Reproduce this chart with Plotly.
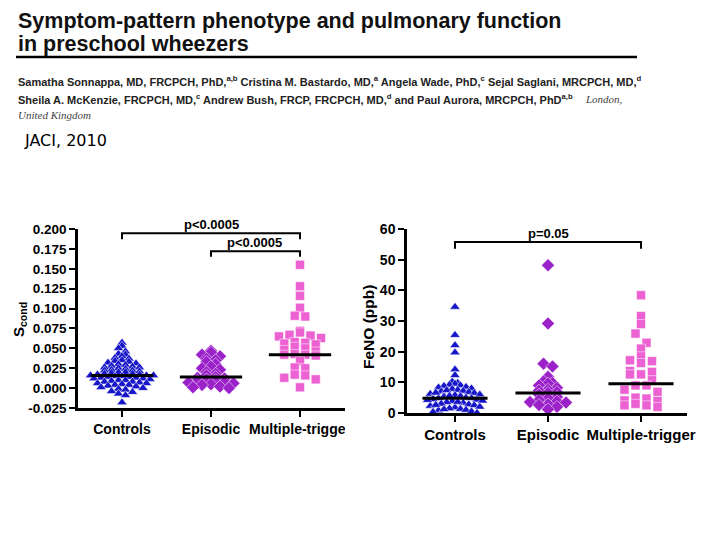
import numpy as np
import plotly.graph_objects as go

# ---------------- data ----------------
categories = ["Controls", "Episodic", "Multiple-trigger"]

scond_controls = [0.057, 0.053, 0.050, 0.046, 0.043, 0.042, 0.040, 0.038, 0.037, 0.035,
                  0.034, 0.033, 0.032, 0.031, 0.030, 0.029, 0.028, 0.027, 0.026, 0.026,
                  0.025, 0.024, 0.023, 0.022, 0.022, 0.021, 0.020, 0.020, 0.019, 0.018,
                  0.018, 0.017, 0.017, 0.016, 0.016, 0.016, 0.015, 0.015, 0.014, 0.014,
                  0.013, 0.013, 0.012, 0.012, 0.011, 0.010, 0.010, 0.009, 0.008, 0.008,
                  0.007, 0.006, 0.006, 0.005, 0.004, 0.004, 0.003, 0.002, 0.001, 0.000,
                  -0.001, -0.002, -0.004, -0.005, -0.007, -0.009, -0.018]
scond_episodic = [0.047, 0.045, 0.042, 0.040, 0.037, 0.035, 0.033, 0.030, 0.027, 0.025,
                  0.023, 0.020, 0.018, 0.016, 0.014, 0.013, 0.012, 0.011, 0.010, 0.009,
                  0.008, 0.007, 0.006, 0.005, 0.004, 0.002, 0.001, 0.000]
scond_multiple = [0.155, 0.128, 0.116, 0.101, 0.091, 0.090, 0.072, 0.070, 0.067, 0.066,
                  0.065, 0.063, 0.058, 0.057, 0.056, 0.055, 0.052, 0.050, 0.048, 0.046,
                  0.043, 0.042, 0.042, 0.041, 0.034, 0.026, 0.025, 0.017, 0.016, 0.013,
                  0.011, 0.001]
scond_medians = [0.016, 0.014, 0.042]

feno_controls = [34.6, 25.4, 22.1, 19.7, 14.2, 12.3, 10.2, 9.8, 9.5, 9.2, 9.0, 8.8, 8.5,
                 8.3, 8.0, 7.8, 7.5, 7.2, 7.0, 6.8, 6.5, 6.2, 6.0, 5.8, 5.5, 5.3, 5.0,
                 4.8, 4.8, 4.5, 4.3, 4.0, 3.8, 3.5, 3.3, 3.0, 2.8, 2.5, 2.3, 2.0, 1.8,
                 1.5, 1.3, 1.0, 0.8, 0.5, 0.3, 0.0, 6.6, 4.2, 2.6, 1.2, 3.6, 7.4, 5.6]
feno_episodic = [48.2, 29.2, 16.1, 15.2, 11.8, 10.3, 9.8, 9.6, 9.0, 8.2, 7.6, 7.3, 6.8,
                 6.5, 6.0, 5.2, 4.8, 4.2, 3.8, 3.6, 3.4, 2.8, 2.6, 2.0, 1.2]
feno_multiple = [38.4, 31.6, 29.0, 25.9, 22.9, 21.0, 18.5, 17.2, 16.9, 16.3, 13.7, 13.4,
                 12.6, 12.6, 10.7, 9.0, 9.0, 7.6, 6.9, 5.0, 4.7, 4.1, 3.9, 3.0, 2.5, 2.5, 2.0]
feno_medians = [4.8, 6.5, 9.5]

scond_ticks = [-0.025, 0.0, 0.025, 0.050, 0.075, 0.100, 0.125, 0.150, 0.175, 0.200]
feno_ticks = [0, 10, 20, 30, 40, 50, 60]

# significance comparisons: (from, to, label)
scond_sig = [(0, 2, "p<0.0005"), (1, 2, "p<0.0005")]
feno_sig = [(0, 2, "p=0.05")]

# ---------------- styling ----------------
W, H = 720, 540
colors = ["#1616c8", "#9b22c9", "#ec62d3"]
symbols = ["triangle-up", "diamond", "square"]
msizes = [9, 10, 9]
FONT = "Liberation Sans, Arial, sans-serif"


def px(x):
    return x / W


def py(y):
    return 1 - y / H


def binned_swarm(vals, px_per_unit, bin_px, spacing_px):
    """Prism-style scatter: points in the same horizontal band are spread side by side."""
    ys = np.asarray(vals, dtype=float) * px_per_unit
    bins = np.floor(ys / bin_px).astype(int)
    xs = np.zeros(len(ys))
    for b in np.unique(bins):
        idx = [i for i in np.argsort(-ys, kind="stable") if bins[i] == b]
        n = len(idx)
        slots = [(k - (n - 1) / 2.0) * spacing_px for k in range(n)]
        slots = sorted(slots, key=lambda s: (abs(s), s))
        for i, s in zip(idx, slots):
            xs[i] = s
    return xs


# left panel geometry (pixels)
L_x0, L_x1 = 78, 345
L_cat_px = [122, 211, 300]
L_step = 89
L_ytop, L_ybot = 229, 408
L_ppu = (L_ybot - L_ytop) / 0.225
# right panel geometry
R_x0, R_x1 = 407, 687
R_cat_px = [455, 548, 641]
R_step = 93
R_ytop, R_ybot = 229, 413
R_ppu = (R_ybot - R_ytop) / 60.0

fig = go.Figure()

left_sets = [scond_controls, scond_episodic, scond_multiple]
right_sets = [feno_controls, feno_episodic, feno_multiple]
left_swarm = [(4.0, 7.0), (4.5, 9.0), (7.0, 10.5)]
right_swarm = [(6.0, 5.5), (5.0, 9.0), (10.0, 11.0)]

for i, vals in enumerate(left_sets):
    off = binned_swarm(vals, L_ppu, *left_swarm[i]) / L_step
    fig.add_trace(go.Scatter(x=i + off, y=vals, mode="markers", xaxis="x", yaxis="y",
                             marker=dict(symbol=symbols[i], size=msizes[i], color=colors[i],
                                         line=dict(width=0.5, color="white")),
                             showlegend=False, cliponaxis=False))
for i, m in enumerate(scond_medians):
    fig.add_trace(go.Scatter(x=[i - 0.35, i + 0.35], y=[m, m], mode="lines", xaxis="x", yaxis="y",
                             line=dict(color="black", width=3), showlegend=False))

for i, vals in enumerate(right_sets):
    off = binned_swarm(vals, R_ppu, *right_swarm[i]) / R_step
    fig.add_trace(go.Scatter(x=i + off, y=vals, mode="markers", xaxis="x2", yaxis="y2",
                             marker=dict(symbol=symbols[i], size=msizes[i], color=colors[i],
                                         line=dict(width=0.5, color="white")),
                             showlegend=False, cliponaxis=False))
for i, m in enumerate(feno_medians):
    fig.add_trace(go.Scatter(x=[i - 0.35, i + 0.35], y=[m, m], mode="lines", xaxis="x2", yaxis="y2",
                             line=dict(color="black", width=3), showlegend=False))

axis_common = dict(showgrid=False, zeroline=False, showline=True, linecolor="black", linewidth=2.5,
                   ticks="outside", tickcolor="black", tickwidth=2, ticklen=6, fixedrange=True)

L_xr = [-(L_cat_px[0] - L_x0) / L_step, 2 + (L_x1 - L_cat_px[2]) / L_step]
R_xr = [-(R_cat_px[0] - R_x0) / R_step, 2 + (R_x1 - R_cat_px[2]) / R_step]

fig.update_layout(
    width=W, height=H, margin=dict(l=0, r=0, t=0, b=0, pad=0, autoexpand=False),
    paper_bgcolor="white", plot_bgcolor="white",
    font=dict(family=FONT, color="black"),
    xaxis=dict(domain=[px(L_x0), px(L_x1)], range=L_xr, anchor="y",
               tickvals=[0, 1, 2], ticktext=categories,
               tickfont=dict(size=14, weight="bold"), **axis_common),
    yaxis=dict(domain=[py(L_ybot), py(L_ytop)], range=[-0.025, 0.200], anchor="x",
               tickvals=scond_ticks, ticktext=[f"{v:.3f}" for v in scond_ticks],
               tickfont=dict(size=13.5, weight="bold"), **axis_common),
    xaxis2=dict(domain=[px(R_x0), px(R_x1)], range=R_xr, anchor="y2",
                tickvals=[0, 1, 2], ticktext=categories,
                tickfont=dict(size=15, weight="bold"), **axis_common),
    yaxis2=dict(domain=[py(R_ybot), py(R_ytop)], range=[0, 60], anchor="x2",
                tickvals=feno_ticks, ticktext=[str(v) for v in feno_ticks],
                tickfont=dict(size=14, weight="bold"), **axis_common),
)

shapes = []
annotations = []


def add_brackets(sig, xref, yref, tops, drops, label_xs):
    for (a, b, txt), top, drop, lx in zip(sig, tops, drops, label_xs):
        shapes.append(dict(type="path", xref=xref, yref=yref,
                           path=f"M {a},{drop} L {a},{top} L {b},{top} L {b},{drop}",
                           line=dict(color="black", width=2)))
        annotations.append(dict(x=lx, y=top, xref=xref, yref=yref, text=txt, showarrow=False,
                                font=dict(size=13, weight="bold"), xanchor="center", yanchor="bottom",
                                yshift=-1))


add_brackets(scond_sig, "x", "y", tops=[0.1947, 0.172], drops=[0.187, 0.165], label_xs=[1.0, 1.49])
add_brackets(feno_sig, "x2", "y2", tops=[55.8], drops=[53.6], label_xs=[1.0])

# axis titles
annotations.append(dict(x=px(19), y=py(320), xref="paper", yref="paper", text="<b>S<sub>cond</sub></b>",
                        textangle=-90, showarrow=False, font=dict(size=15), xanchor="center", yanchor="middle"))
annotations.append(dict(x=px(368), y=py(327), xref="paper", yref="paper", text="<b>FeNO (ppb)</b>",
                        textangle=-90, showarrow=False, font=dict(size=15.5), xanchor="center", yanchor="middle"))

# crop mask for the clipped left-panel label
shapes.append(dict(type="rect", xref="paper", yref="paper", x0=px(345), x1=px(364),
                   y0=py(442), y1=py(416), fillcolor="white", line=dict(width=0), layer="above"))

# header (paper title block)
header = [
    dict(x=px(16), y=py(21), text="<b>Symptom-pattern phenotype and pulmonary function</b>",
         font=dict(size=21.5, color="#111111")),
    dict(x=px(16), y=py(44), text="<b>in preschool wheezers</b>", font=dict(size=21.5, color="#111111")),
    dict(x=px(16), y=py(81),
         text="<b>Samatha Sonnappa, MD, FRCPCH, PhD,<sup>a,b</sup> Cristina M. Bastardo, MD,<sup>a</sup> "
              "Angela Wade, PhD,<sup>c</sup> Sejal Saglani, MRCPCH, MD,<sup>d</sup></b>",
         font=dict(size=11, color="#222222")),
    dict(x=px(16), y=py(99),
         text="<b>Sheila A. McKenzie, FRCPCH, MD,<sup>c</sup> Andrew Bush, FRCP, FRCPCH, MD,<sup>d</sup> "
              "and Paul Aurora, MRCPCH, PhD<sup>a,b</sup></b>",
         font=dict(size=11, color="#222222")),
    dict(x=px(583), y=py(99), text="<i>London,</i>",
         font=dict(size=11, color="#444444", family="Liberation Serif, serif")),
    dict(x=px(16), y=py(115), text="<i>United Kingdom</i>",
         font=dict(size=11, color="#444444", family="Liberation Serif, serif")),
    dict(x=px(22), y=py(141), text="JACI, 2010", font=dict(size=16, color="black", family="DejaVu Sans")),
]
for a in header:
    a.update(xref="paper", yref="paper", showarrow=False, xanchor="left", yanchor="middle")
annotations += header

shapes.append(dict(type="line", xref="paper", yref="paper", x0=px(16), x1=px(637), y0=py(57), y1=py(57),
                   line=dict(color="black", width=2.5)))

fig.update_layout(shapes=shapes, annotations=annotations)
fig.write_html("out.html", config={"displayModeBar": False},
               post_script="document.body.style.margin='0px';document.body.style.overflow='hidden';")
